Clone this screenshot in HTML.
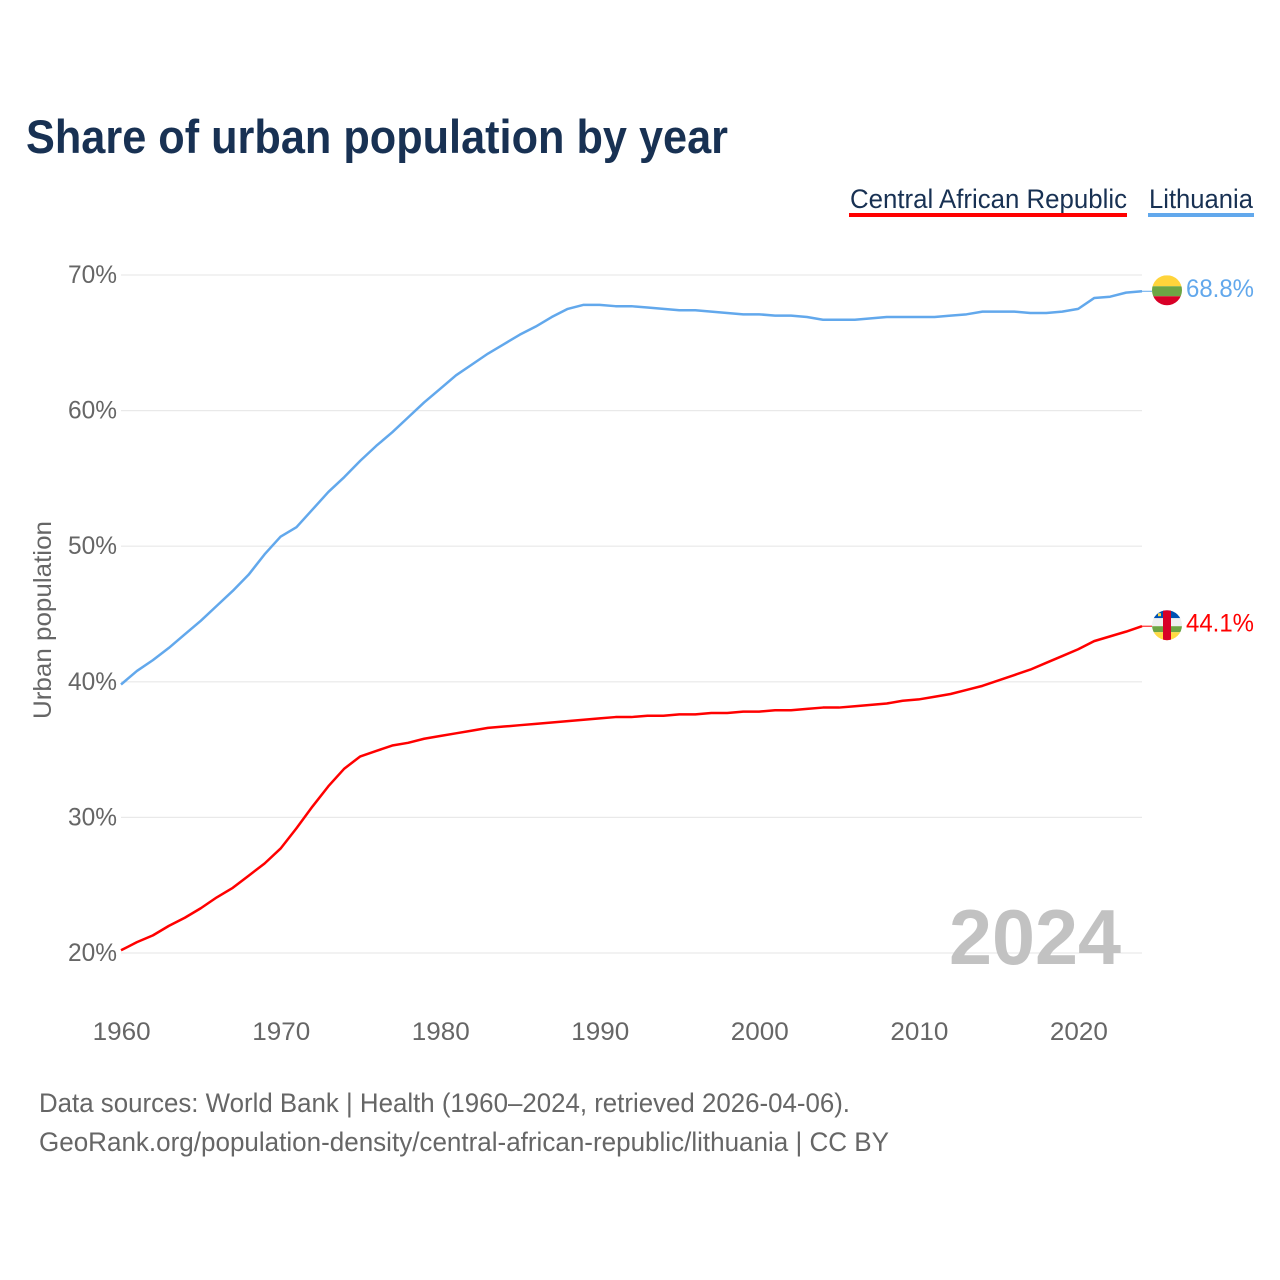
<!DOCTYPE html>
<html lang="en">
<head>
<meta charset="utf-8">
<title>Share of urban population by year</title>
<style>
html,body{margin:0;padding:0;background:#fff;}
svg{display:block;font-family:"Liberation Sans",sans-serif;}
</style>
</head>
<body>
<svg id="chart" xmlns="http://www.w3.org/2000/svg" width="1280" height="1280" viewBox="0 0 1280 1280">
<rect x="0" y="0" width="1280" height="1280" fill="#ffffff"/>
<defs>
<clipPath id="clip-lt"><circle id="clip-lt-c" cx="1167" cy="290" r="15"/></clipPath>
<clipPath id="clip-cf"><circle id="clip-cf-c" cx="1167" cy="625" r="15"/></clipPath>
</defs>
<text x="26" y="153" font-size="47" font-weight="700" fill="#183153" textLength="702" lengthAdjust="spacingAndGlyphs">Share of urban population by year</text>
<text x="850" y="208" font-size="27" fill="#183153" textLength="277" lengthAdjust="spacingAndGlyphs">Central African Republic</text>
<rect x="849" y="213" width="278" height="4" fill="#ff0000"/>
<text x="1149" y="208" font-size="27" fill="#183153" textLength="104" lengthAdjust="spacingAndGlyphs">Lithuania</text>
<rect x="1148" y="213" width="106" height="4" fill="#62a8ec"/>
<g id="grid"></g>
<g id="yticks"></g>
<g id="xticks"></g>
<text transform="translate(51,620) rotate(-90)" text-anchor="middle" font-size="25" fill="#666666" textLength="198" lengthAdjust="spacingAndGlyphs">Urban population</text>
<text x="949" y="964" font-size="78" font-weight="700" fill="#bfbfbf" fill-opacity="0.95" textLength="172" lengthAdjust="spacingAndGlyphs">2024</text>
<g id="series"></g>
<g id="flag-lt" clip-path="url(#clip-lt)"></g>
<g id="flag-cf" clip-path="url(#clip-cf)"></g>
<g id="endlabels"></g>
<text x="39" y="1112" font-size="27" fill="#666666" textLength="811" lengthAdjust="spacingAndGlyphs">Data sources: World Bank | Health (1960–2024, retrieved 2026-04-06).</text>
<text x="39" y="1151" font-size="27" fill="#666666" textLength="850" lengthAdjust="spacingAndGlyphs">GeoRank.org/population-density/central-african-republic/lithuania | CC BY</text>
</svg>
<script>
const startYear = 1960;
const yTickValues = [20, 30, 40, 50, 60, 70];
const yTickLabels = ["20%", "30%", "40%", "50%", "60%", "70%"];
const xTickValues = [1960, 1970, 1980, 1990, 2000, 2010, 2020];
const xTickLabels = ["1960", "1970", "1980", "1990", "2000", "2010", "2020"];
const lithuaniaValues = [39.8,40.8,41.6,42.5,43.5,44.5,45.6,46.7,47.9,49.4,50.7,51.4,52.7,54.0,55.1,56.3,57.4,58.4,59.5,60.6,61.6,62.6,63.4,64.2,64.9,65.6,66.2,66.9,67.5,67.8,67.8,67.7,67.7,67.6,67.5,67.4,67.4,67.3,67.2,67.1,67.1,67.0,67.0,66.9,66.7,66.7,66.7,66.8,66.9,66.9,66.9,66.9,67.0,67.1,67.3,67.3,67.3,67.2,67.2,67.3,67.5,68.3,68.4,68.7,68.8];
const carValues = [20.2,20.8,21.3,22.0,22.6,23.3,24.1,24.8,25.7,26.6,27.7,29.2,30.8,32.3,33.6,34.5,34.9,35.3,35.5,35.8,36.0,36.2,36.4,36.6,36.7,36.8,36.9,37.0,37.1,37.2,37.3,37.4,37.4,37.5,37.5,37.6,37.6,37.7,37.7,37.8,37.8,37.9,37.9,38.0,38.1,38.1,38.2,38.3,38.4,38.6,38.7,38.9,39.1,39.4,39.7,40.1,40.5,40.9,41.4,41.9,42.4,43.0,43.35,43.7,44.1];

const NS = "http://www.w3.org/2000/svg";
function xScale(year) { return 121 + (year - 1960) * (1142 - 121) / 64; }
function yScale(v) { return 953 - (v - 20) * (953 - 275) / 50; }
function make(tag, attrs, parent) {
  const el = document.createElementNS(NS, tag);
  for (const k in attrs) el.setAttribute(k, attrs[k]);
  parent.appendChild(el);
  return el;
}
const grid = document.getElementById("grid");
const yticks = document.getElementById("yticks");
const xticks = document.getElementById("xticks");
const series = document.getElementById("series");
const endlabels = document.getElementById("endlabels");

yTickValues.forEach(function (v, i) {
  const line = make("line", {x1: 121, x2: 1142, y1: yScale(v), y2: yScale(v), stroke: "#e9e9e9", "stroke-width": 1.2}, grid);
  
  
  const t = make("text", {x: 117, y: yScale(v) + 8, "text-anchor": "end", "font-size": 25, fill: "#666666", textLength: 49, lengthAdjust: "spacingAndGlyphs"}, yticks);
  t.textContent = yTickLabels[i];
  
  
});

xTickValues.forEach(function (yr, i) {
  const t = make("text", {x: xScale(yr) + 0.7, y: 1040, "text-anchor": "middle", "font-size": 25, fill: "#666666", textLength: 58, lengthAdjust: "spacingAndGlyphs"}, xticks);
  t.textContent = xTickLabels[i];
  
  
});

function pathFor(values) {
  return values.map(function (v, i) {
    return (i ? "L" : "M") + xScale(startYear + i).toFixed(2) + " " + yScale(v).toFixed(2);
  }).join(" ");
}

function drawSeries(values, color, name) {
  const path = make("path", {d: pathFor(values), fill: "none", stroke: color, "stroke-width": 2.5, "stroke-linejoin": "round"}, series);
  
  
  const last = values[values.length - 1];
  const lead = make("line", {x1: 1142, x2: 1152, y1: yScale(last), y2: yScale(last), stroke: color, "stroke-width": 1}, series);
  
  
  const label = make("text", {x: 1186, y: yScale(last) + 5.5, "font-size": 25, fill: color, textLength: 68, lengthAdjust: "spacingAndGlyphs"}, endlabels);
  label.textContent = last.toFixed(1) + "%";
  
  
}
drawSeries(lithuaniaValues, "#62a8ec", "lithuania");
drawSeries(carValues, "#ff0000", "central-african-republic");

function band(parent, x, y, w, h, fill) {
  const r = make("rect", {x: x, y: y, width: w, height: h, fill: fill}, parent);
  
  
}
const ltY = yScale(lithuaniaValues[lithuaniaValues.length - 1]);
const cfY = yScale(carValues[carValues.length - 1]);
document.getElementById("clip-lt-c").setAttribute("cy", ltY - 1);
document.getElementById("clip-cf-c").setAttribute("cy", cfY - 1);

const flagLt = document.getElementById("flag-lt");
band(flagLt, 1150, ltY - 16, 34, 11, "#ffd43b");
band(flagLt, 1150, ltY - 5, 34, 10, "#6da544");
band(flagLt, 1150, ltY + 5, 34, 11, "#d80027");

const flagCf = document.getElementById("flag-cf");
band(flagCf, 1150, cfY - 16, 34, 8, "#0052b4");
band(flagCf, 1150, cfY - 8, 34, 8, "#f0f0f0");
band(flagCf, 1150, cfY, 34, 6, "#6da544");
band(flagCf, 1150, cfY + 6, 34, 9, "#ffda44");
band(flagCf, 1163, cfY - 16, 8, 32, "#d80027");
band(flagCf, 1158, cfY - 13, 3, 3, "#ffda44");
</script>
</body>
</html>
